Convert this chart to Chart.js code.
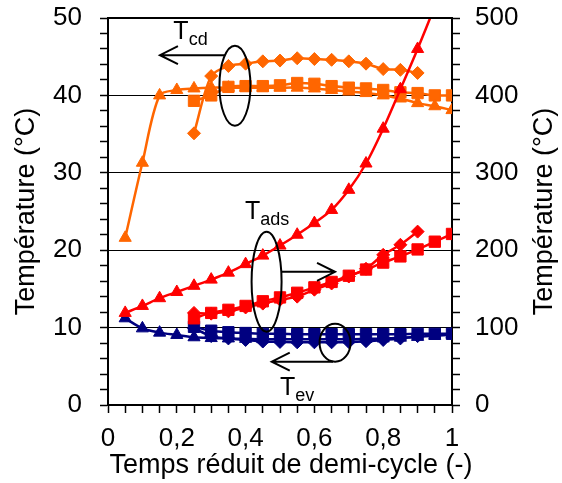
<!DOCTYPE html>
<html><head><meta charset="utf-8">
<script src="https://cdn.jsdelivr.net/npm/chart.js@4.4.1/dist/chart.umd.min.js"></script>
<style>html,body{margin:0;padding:0;background:#fff;overflow:hidden}</style>
</head><body>
<canvas id="c" width="562" height="483"></canvas>
<script>
// ---- data ----
const xFull = [0.05,0.10,0.15,0.20,0.25,0.30,0.35,0.40,0.45,0.50,0.55,0.60,0.65,0.70,0.75,0.80,0.85,0.90,0.95,1.00];
const xAdsTri = [0.05,0.10,0.15,0.20,0.25,0.30,0.35,0.40,0.45,0.50,0.55,0.60,0.65,0.70,0.75,0.80,0.85,0.90,0.95];
const xHalf = [0.25,0.30,0.35,0.40,0.45,0.50,0.55,0.60,0.65,0.70,0.75,0.80,0.85,0.90,0.95,1.00];
const xShort = [0.25,0.30,0.35,0.40,0.45,0.50,0.55,0.60,0.65,0.70,0.75,0.80,0.85,0.90];

// Tcd (left axis, °C)
const tcdTri = [21.6,31.3,40.0,40.7,40.9,41.0,41.0,41.0,41.0,41.0,41.0,40.9,40.7,40.5,40.3,40.0,39.6,39.0,38.6,38.1];
const tcdSq  = [39.3,40.0,41.1,41.2,41.2,41.3,41.6,41.5,41.2,41.0,40.9,40.7,40.4,40.3,40.0,40.0];
const tcdDia = [35.1,42.5,43.8,44.1,44.4,44.5,44.8,44.7,44.6,44.4,44.1,43.4,43.3,42.9];
// Tads (right axis, °C)
const adsTri = [119,128,138,146,154,162,171,182,193,206,220,235,252,278,312,357,408,460,515];
const adsSq  = [112,119,123,128,134,139,145,152,159,167,175,184,192,201,211,221];
const adsDia = [119,118,121,126,131,136,140,149,157,166,176,194,207,224];
// Tev (left axis, °C)
const evTri = [11.2,9.9,9.35,9.05,8.75,8.65,8.6,8.55,8.5,8.5,8.5,8.5,8.5,8.5,8.55,8.6,8.7,8.8,8.95,9.1];
const evSq  = [10.1,9.6,9.4,9.3,9.2,9.2,9.15,9.15,9.15,9.15,9.15,9.15,9.15,9.2,9.2,9.2];
const evDia = [9.9,8.9,8.6,8.4,8.2,8.15,8.1,8.1,8.1,8.15,8.25,8.4,8.6,8.9];

const xTickLabels = ['0','0,2','0,4','0,6','0,8','1'];
const yTitle = 'Température (°C)';
const xTitle = 'Temps réduit de demi-cycle (-)';

const ORANGE = '#FF6600', RED = '#FF0000', BLUE = '#000080';
const FONT = '"Liberation Sans", Arial, sans-serif';

function pts(xs, ys){ return xs.map((x,i)=>({x:x,y:ys[i]})); }
function ds(xs, ys, color, style, axis, r){
  return {data:pts(xs,ys), yAxisID:axis, borderColor:color, backgroundColor:color,
    borderWidth:2.5, pointStyle:style, pointRadius:r, pointHoverRadius:r,
    pointBorderWidth:1, tension:0.3, showLine:true, fill:false};
}

const datasets = [
  ds(xAdsTri, adsTri, RED, 'triangle', 'y2', 7),
  ds(xHalf, adsSq, RED, 'rect', 'y2', 8),
  ds(xShort, adsDia, RED, 'rectRot', 'y2', 6.5),
  ds(xFull, tcdTri, ORANGE, 'triangle', 'y', 7),
  ds(xHalf, tcdSq, ORANGE, 'rect', 'y', 8),
  ds(xShort, tcdDia, ORANGE, 'rectRot', 'y', 6.5),
  ds(xFull, evTri, BLUE, 'triangle', 'y', 7),
  ds(xHalf, evSq, BLUE, 'rect', 'y', 8),
  ds(xShort, evDia, BLUE, 'rectRot', 'y', 6.5),
];

function near(v, step){ return Math.abs(v/step - Math.round(v/step)) < 1e-6; }

const notes = {
  id:'notes',
  afterDatasetsDraw(chart){
    const {ctx, chartArea:a, scales:{x, y}} = chart;
    ctx.save();
    ctx.strokeStyle = '#000'; ctx.lineWidth = 2;
    ctx.beginPath(); ctx.moveTo(a.left, a.top); ctx.lineTo(a.right, a.top); ctx.stroke();
    function P(xv, yv){ return [x.getPixelForValue(xv), y.getPixelForValue(yv)]; }
    function ell(xv, yv, rx, ry){
      const [cx, cy] = P(xv, yv);
      ctx.beginPath(); ctx.ellipse(cx, cy, rx, ry, 0, 0, Math.PI*2); ctx.stroke();
    }
    function arrow(x1v, x2v, yv){
      const [x1, yy] = P(x1v, yv); const [x2] = P(x2v, yv);
      const d = x2 > x1 ? -1 : 1;
      ctx.beginPath(); ctx.moveTo(x1, yy); ctx.lineTo(x2, yy);
      ctx.moveTo(x2 + d*18, yy - 9); ctx.lineTo(x2, yy); ctx.lineTo(x2 + d*18, yy + 9);
      ctx.stroke();
    }
    function label(xv, yv, main, sub){
      const [px, py] = P(xv, yv);
      ctx.fillStyle = '#000'; ctx.textAlign = 'left'; ctx.textBaseline = 'alphabetic';
      ctx.font = '25px ' + FONT; ctx.fillText(main, px, py);
      const w = ctx.measureText(main).width;
      ctx.font = '18px ' + FONT; ctx.fillText(sub, px + w, py + 6);
    }
    ctx.lineWidth = 2; ctx.strokeStyle = '#000';
    // Tcd
    ell(0.369, 41.25, 15.5, 40);
    arrow(0.340, 0.151, 45.2);
    label(0.19, 47.3, 'T', 'cd');
    // Tads
    ell(0.461, 15.93, 15, 50);
    arrow(0.505, 0.66, 17.2);
    label(0.398, 24.0, 'T', 'ads');
    // Tev
    ell(0.660, 8.05, 15.5, 19);
    arrow(0.654, 0.476, 5.6);
    label(0.50, 1.3, 'T', 'ev');
    ctx.restore();
  },
  afterDraw(chart){
    const {ctx, chartArea:a} = chart;
    ctx.save();
    ctx.fillStyle = '#000'; ctx.font = '27px ' + FONT;
    ctx.textAlign = 'center'; ctx.textBaseline = 'middle';
    ctx.fillText(xTitle, 291, 466);
    ctx.translate(27, (a.top + a.bottom)/2); ctx.rotate(-Math.PI/2);
    ctx.fillText(yTitle, 0, 0);
    ctx.restore();
    ctx.save();
    ctx.fillStyle = '#000'; ctx.font = '27px ' + FONT;
    ctx.textAlign = 'center'; ctx.textBaseline = 'middle';
    ctx.translate(545, (a.top + a.bottom)/2); ctx.rotate(-Math.PI/2);
    ctx.fillText(yTitle, 0, 0);
    ctx.restore();
  }
};

function fitV(w){ return function(s){ s.width = w; s.paddingTop = 0; s.paddingBottom = 0; }; }

new Chart(document.getElementById('c'), {
  type:'scatter',
  data:{datasets},
  plugins:[notes],
  options:{
    responsive:false, animation:false,
    layout:{padding:{top:18, left:0, right:0, bottom:0}},
    plugins:{legend:{display:false}, tooltip:{enabled:false}},
    scales:{
      x:{type:'linear', min:0, max:1,
        afterFit(s){ s.height = 78; s.paddingLeft = 0; s.paddingRight = 0; },
        border:{display:true, color:'#000', width:2},
        grid:{drawOnChartArea:false, tickLength:8, tickColor:'#000', tickWidth:1.5},
        ticks:{stepSize:0.05, autoSkip:false, maxRotation:0, padding:10, color:'#000',
          font:{size:26, family:FONT},
          callback:(v)=> near(v,0.2) ? xTickLabels[Math.round(v/0.2)] : ''}
      },
      y:{type:'linear', position:'left', min:0, max:50,
        afterFit: fitV(108),
        border:{display:true, color:'#000', width:2},
        grid:{drawOnChartArea:true, tickLength:8, tickColor:'#000', tickWidth:1.5, lineWidth:1,
          color:(c)=> (c.tick && near(c.tick.value,10) && c.tick.value>0 && c.tick.value<50) ? '#000' : 'rgba(0,0,0,0)'},
        ticks:{stepSize:2, autoSkip:false, padding:18, color:'#000', font:{size:26, family:FONT},
          callback:(v)=> near(v,10) ? String(v) : ''}
      },
      y2:{type:'linear', position:'right', min:0, max:500,
        afterFit: fitV(110),
        border:{display:true, color:'#000', width:2},
        grid:{drawOnChartArea:false, tickLength:8, tickColor:'#000', tickWidth:1.5},
        ticks:{stepSize:20, autoSkip:false, padding:15, color:'#000', font:{size:26, family:FONT},
          callback:(v)=> near(v,100) ? String(v) : ''}
      }
    }
  }
});
</script>
</body></html>
